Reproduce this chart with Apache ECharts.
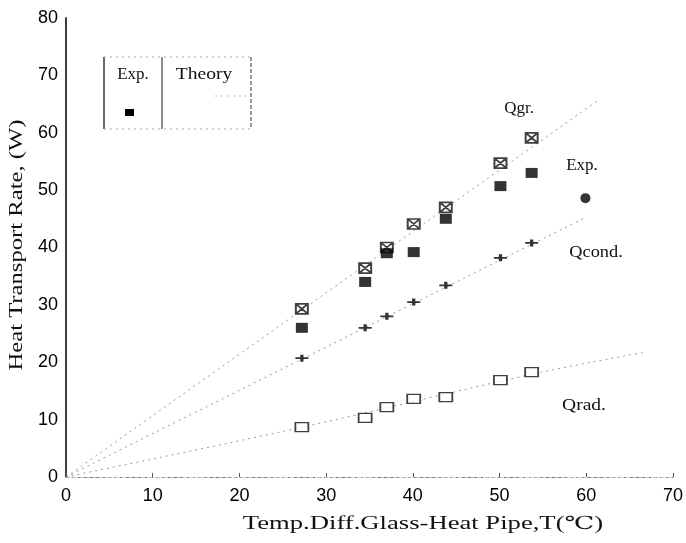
<!DOCTYPE html>
<html>
<head>
<meta charset="utf-8">
<script src="https://cdn.jsdelivr.net/npm/echarts@6/dist/echarts.min.js"></script>
<style>html,body{margin:0;padding:0;background:#fff}#c{width:686px;height:543px}</style>
</head>
<body>
<div id="c"></div>
<script>
// Experimental data (x = temperature difference, °C)
var xExp = [27.2, 34.5, 37.0, 40.1, 43.8, 50.1, 53.7];
var qgrExp = [29.3, 36.4, 40.0, 44.1, 47.0, 54.7, 59.1];
var totExp = [26.0, 34.0, 39.0, 39.2, 45.0, 50.7, 53.0];
var qcondExp = [20.7, 26.0, 28.0, 30.5, 33.4, 38.2, 40.8];
var qradExp = [8.7, 10.3, 12.2, 13.6, 13.9, 16.9, 18.3];
var circleExp = [[59.9, 48.6]];

// Theory curves
var qgrTheory = [[0, 0], [61.5, 65.8]];
var qcondTheory = [[0, 0], [60.0, 45.3]];
var qradTheory = [[0, 0], [27.0, 8.6], [54.0, 18.0], [66.5, 21.7]];

// Axis ticks
var xTicks = [0, 10, 20, 30, 40, 50, 60, 70];
var yTicks = [0, 10, 20, 30, 40, 50, 60, 70, 80];

function pairs(xs, ys) { return xs.map(function (x, i) { return [x, ys[i]]; }); }

var serif = '"Liberation Serif","DejaVu Serif",serif';
var sans = '"Liberation Sans",Arial,sans-serif';
var chart = echarts.init(document.getElementById('c'));

var theoryStyle = { color: '#9a9a9a', width: 1, type: [2, 4] };

chart.setOption({
  animation: false,
  backgroundColor: '#fff',
  grid: { left: 66, right: 13, top: 18, bottom: 66 },
  xAxis: [{
    type: 'value', min: xTicks[0], max: xTicks[xTicks.length - 1], interval: 10,
    axisLine: { lineStyle: { color: '#777', width: 1, type: [3, 3] } },
    axisTick: { inside: true, length: 4, lineStyle: { color: '#555' } },
    axisLabel: { fontFamily: sans, fontSize: 18, color: '#000', margin: 10 },
    splitLine: { show: false }
  }, {
    type: 'value', position: 'top', min: 0, max: 70,
    axisLine: { show: true, lineStyle: { color: '#bbb', width: 1, type: [2, 5] } },
    axisTick: { show: false }, axisLabel: { show: false }, splitLine: { show: false }
  }],
  yAxis: [{
    type: 'value', min: yTicks[0], max: yTicks[yTicks.length - 1], interval: 10,
    axisLine: { show: true, lineStyle: { color: '#222', width: 1.5 } },
    axisTick: { show: false },
    axisLabel: { fontFamily: sans, fontSize: 18, color: '#000', margin: 8 },
    splitLine: { show: false }
  }, {
    type: 'value', position: 'right', min: 0, max: 80,
    axisLine: { show: true, lineStyle: { color: '#333', width: 1.5 } },
    axisTick: { show: false }, axisLabel: { show: false }, splitLine: { show: false }
  }],
  series: [
    { type: 'line', data: qgrTheory, showSymbol: false, lineStyle: theoryStyle, z: 1 },
    { type: 'line', data: qcondTheory, showSymbol: false, lineStyle: theoryStyle, z: 1 },
    { type: 'line', data: qradTheory, showSymbol: false, smooth: 0.3, lineStyle: theoryStyle, z: 1 },
    { type: 'scatter', data: pairs(xExp, qgrExp), symbol: 'path://M0,0H12V10H0Z M0,0L12,10 M12,0L0,10', symbolSize: [12, 10],
      itemStyle: { color: '#fff', borderColor: '#111', borderWidth: 1.8 }, z: 3 },
    { type: 'scatter', data: pairs(xExp, totExp), symbol: 'rect', symbolSize: [12, 10],
      itemStyle: { color: '#000' }, z: 3 },
    { type: 'scatter', data: pairs(xExp, qcondExp), symbol: 'path://M0,5H14 M7,2V8', symbolSize: [13, 7],
      itemStyle: { color: 'rgba(0,0,0,0)', borderColor: '#000', borderWidth: 2.4 }, z: 3 },
    { type: 'scatter', data: pairs(xExp, qradExp), symbol: 'rect', symbolSize: [13, 9],
      itemStyle: { color: '#fff', borderColor: '#111', borderWidth: 1.5 }, z: 3 },
    { type: 'scatter', data: circleExp, symbol: 'circle', symbolSize: 10,
      itemStyle: { color: '#000' }, z: 3 }
  ],
  graphic: [
    // axis titles (stretched serif, as in the scan)
    { type: 'text', x: 423, y: 524, scaleX: 1.48,
      style: { text: 'Temp.Diff.Glass-Heat Pipe,T(℃)', font: '18px ' + serif, fill: '#111', textAlign: 'center', textVerticalAlign: 'middle' } },
    { type: 'text', x: 17, y: 245, rotation: Math.PI / 2, scaleX: 1.37,
      style: { text: 'Heat Transport Rate, (W)', font: '18px ' + serif, fill: '#111', textAlign: 'center', textVerticalAlign: 'middle' } },
    // legend box
    { type: 'line', shape: { x1: 104, y1: 57, x2: 104, y2: 129 }, style: { stroke: '#333', lineWidth: 1.5 } },
    { type: 'line', shape: { x1: 162, y1: 57, x2: 162, y2: 129 }, style: { stroke: '#444', lineWidth: 1.2 } },
    { type: 'line', shape: { x1: 251, y1: 57, x2: 251, y2: 129 }, style: { stroke: '#555', lineWidth: 1.2, lineDash: [4, 2] } },
    { type: 'line', shape: { x1: 104, y1: 57, x2: 251, y2: 57 }, style: { stroke: '#aaa', lineWidth: 1, lineDash: [2, 4] } },
    { type: 'line', shape: { x1: 104, y1: 129, x2: 251, y2: 129 }, style: { stroke: '#aaa', lineWidth: 1, lineDash: [2, 4] } },
    { type: 'text', x: 133, y: 75, style: { text: 'Exp.', font: '17px ' + serif, fill: '#111', textAlign: 'center', textVerticalAlign: 'middle' } },
    { type: 'text', x: 204, y: 75, scaleX: 1.15, style: { text: 'Theory', font: '17px ' + serif, fill: '#111', textAlign: 'center', textVerticalAlign: 'middle' } },
    { type: 'rect', shape: { x: 125, y: 109, width: 9, height: 7 }, style: { fill: '#000' } },
    { type: 'line', shape: { x1: 215, y1: 96, x2: 250, y2: 96 }, style: { stroke: '#bbb', lineWidth: 1, lineDash: [2, 4] } },
    // curve labels
    { type: 'text', x: 519, y: 109, style: { text: 'Qgr.', font: '17px ' + serif, fill: '#111', textAlign: 'center', textVerticalAlign: 'middle' } },
    { type: 'text', x: 582, y: 166, style: { text: 'Exp.', font: '17px ' + serif, fill: '#111', textAlign: 'center', textVerticalAlign: 'middle' } },
    { type: 'text', x: 596, y: 253, scaleX: 1.08, style: { text: 'Qcond.', font: '17px ' + serif, fill: '#111', textAlign: 'center', textVerticalAlign: 'middle' } },
    { type: 'text', x: 584, y: 406, scaleX: 1.15, style: { text: 'Qrad.', font: '17px ' + serif, fill: '#111', textAlign: 'center', textVerticalAlign: 'middle' } }
  ]
});
</script>
</body>
</html>
